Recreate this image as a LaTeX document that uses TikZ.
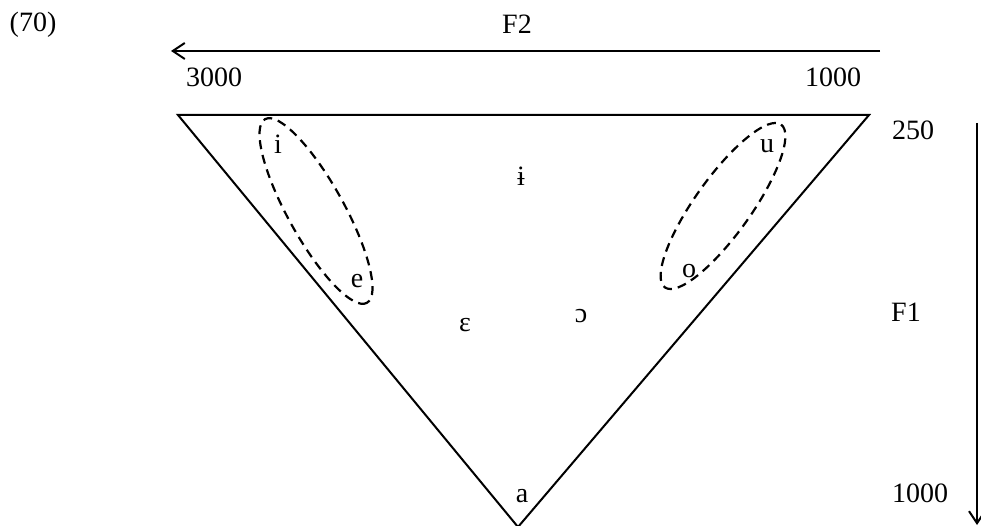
\documentclass[tikz,border=0pt]{standalone}
\usepackage{fontspec}
\setmainfont{Liberation Serif}
\usetikzlibrary{arrows.meta}
\begin{document}
\begin{tikzpicture}[x=1pt,y=-1pt,
  lbl/.style={font=\fontsize{28}{32}\selectfont, inner sep=0pt},
  edge/.style={line width=2pt},
  axisarrow/.style={line width=2pt, -{Straight Barb[length=12pt,width=16pt,line width=2pt]}},
  group/.style={draw, line width=2.2pt, dash pattern=on 9pt off 6pt}]
\useasboundingbox (0,0) rectangle (981,526);
% triangle
\coordinate (tl) at (178,115);
\coordinate (tr) at (869,115);
\coordinate (bt) at (518,527);
\draw[edge, line join=miter] (tl) -- (tr) -- (bt) -- cycle;
% axes
\coordinate (f2s) at (880,51);
\coordinate (f2e) at (171,51);
\draw[axisarrow] (f2s) -- (f2e);
\coordinate (f1s) at (977,123);
\coordinate (f1e) at (977,525);
\draw[axisarrow] (f1s) -- (f1e);
% labels
\node[lbl] (ex) at (33,25) {(70)};
\node[lbl] (f2) at (517,24) {F2};
\node[lbl] (l3000) at (214,77) {3000};
\node[lbl] (l1000a) at (833,77) {1000};
\node[lbl] (l250) at (913,130) {250};
\node[lbl] (f1) at (906,312) {F1};
\node[lbl] (l1000b) at (920,493) {1000};
% vowels
\node[lbl] (vi) at (278,144) {i};
\node[lbl] (vu) at (767,146) {u};
\node[lbl] (vbi) at (521,176) {ɨ};
\node[lbl] (ve) at (357,281) {e};
\node[lbl] (vo) at (689,271) {o};
\node[lbl] (veps) at (465,325) {ɛ};
\node[lbl] (vopen) at (581,316) {ɔ};
\node[lbl] (va) at (522,496) {a};
% groupings
\draw[group] (316,211) ellipse [x radius=105, y radius=28, rotate=-61];
\draw[group] (723,206) ellipse [x radius=100, y radius=28, rotate=54.5];
\end{tikzpicture}
\end{document}
